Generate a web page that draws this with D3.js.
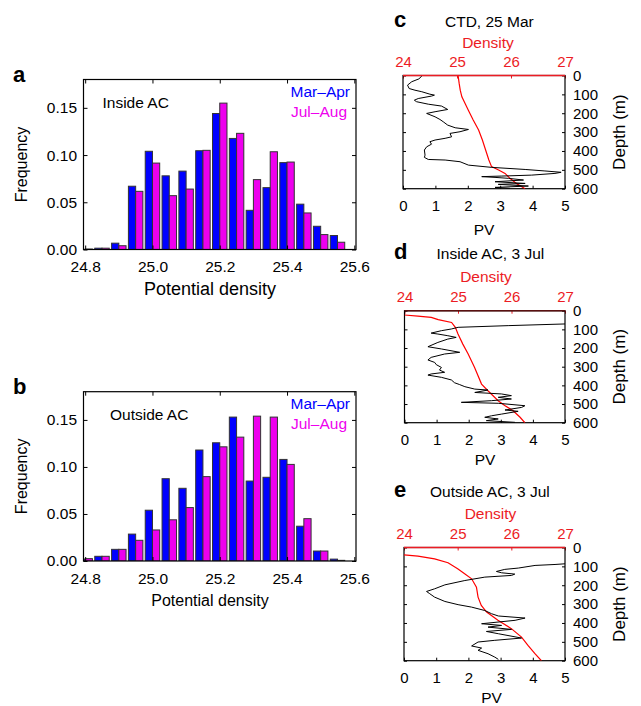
<!DOCTYPE html>
<html>
<head>
<meta charset="utf-8">
<script src="https://cdn.jsdelivr.net/npm/d3@7"></script>
<style>
  html, body { margin: 0; padding: 0; background: #fff; }
  svg { display: block; font-family: "Liberation Sans", Arial, Helvetica, sans-serif; }
</style>
</head>
<body>
<svg id="chart" width="641" height="706"></svg>
<script>
// ---------------- DATA ----------------
const densityBins = [24.80, 24.85, 24.90, 24.95, 25.00, 25.05, 25.10, 25.15, 25.20, 25.25, 25.30, 25.35, 25.40, 25.45, 25.50, 25.55];
const insideMarApr  = [0.000, 0.0014, 0.0067, 0.067, 0.104, 0.078, 0.083, 0.1046, 0.144, 0.1176, 0.0415, 0.0655, 0.092, 0.048, 0.0246, 0.0148];
const insideJulAug  = [0.0005, 0.0014, 0.004, 0.0616, 0.0915, 0.057, 0.064, 0.105, 0.155, 0.123, 0.074, 0.1035, 0.0926, 0.0387, 0.0158, 0.0077];
const outsideMarApr = [0.002, 0.005, 0.0124, 0.0286, 0.054, 0.0875, 0.0773, 0.118, 0.1257, 0.153, 0.085, 0.089, 0.108, 0.037, 0.0106, 0.002];
const outsideJulAug = [0.0025, 0.005, 0.0124, 0.022, 0.033, 0.0438, 0.0568, 0.0897, 0.1214, 0.1317, 0.154, 0.153, 0.1027, 0.045, 0.0106, 0.0007];
const histXTicks = [24.8, 25.0, 25.2, 25.4, 25.6];
const histYTicks = [0.00, 0.05, 0.10, 0.15];
const seasonLabels = ["Mar–Apr", "Jul–Aug"];

const pvTicks = [0, 1, 2, 3, 4, 5];
const rhoTicks = [24, 25, 26, 27];
const depthTicks = [0, 100, 200, 300, 400, 500, 600];

// profiles: [value, depth]
const ctdPV = [[0.58,3],[0.49,18],[0.27,33],[0.14,51],[0.19,69],[0.37,78],[0.58,86],[0.83,99],[0.97,104],[0.88,109],[0.47,122],[0.35,131],[0.42,139],[0.78,152],[1.19,162],[1.38,180],[0.99,192],[0.73,201],[0.99,219],[1.14,233],[1.24,245],[1.38,263],[1.61,277],[2.02,286],[1.76,298],[1.45,307],[1.5,325],[1.3,333],[0.99,342],[0.83,351],[0.88,364],[0.73,378],[0.66,395],[0.68,422],[0.66,434],[0.78,445],[1.3,448],[1.76,457],[2.02,475],[2.74,487],[3.77,498],[4.38,506],[4.88,513],[4.69,519],[3.97,528],[3.05,533],[2.43,536],[2.84,540],[3.25,545],[3.72,554],[2.84,563],[3.77,572],[2.94,577],[3.87,586],[2.84,593],[3.3,598]];
const ctdRho = [[25.02,0],[25.04,42],[25.06,78],[25.09,113],[25.15,148],[25.21,184],[25.30,236],[25.40,289],[25.47,342],[25.53,395],[25.59,448],[25.64,483],[25.77,501],[25.89,519],[25.98,545],[26.10,572],[26.26,600]];

const insidePV = [[5.2,70],[3.23,80],[1.67,89],[1.46,98],[1.15,107],[0.83,120],[1.04,125],[1.35,134],[1.61,143],[1.35,152],[1.04,170],[0.73,193],[1.15,205],[1.72,223],[1.25,232],[0.83,250],[0.73,264],[0.94,277],[0.99,289],[1.15,304],[1.09,318],[1.25,330],[0.83,339],[0.73,345],[1.15,357],[1.46,371],[1.56,386],[1.72,396],[1.88,407],[2.19,420],[2.6,425],[2.19,438],[3.02,446],[3.33,455],[2.92,464],[3.33,473],[2.71,482],[1.77,491],[2.92,496],[3.75,509],[3.65,518],[3.13,532],[3.54,539],[3.02,554],[2.71,563],[2.5,571],[2.92,580],[2.55,589],[3.44,598]];
const insideRho = [[24.0,23],[24.25,29],[24.5,36],[24.63,48],[24.88,63],[24.95,89],[25.0,125],[25.09,179],[25.19,232],[25.31,304],[25.44,393],[25.56,429],[25.75,482],[25.88,509],[26.03,536],[26.16,571],[26.25,600]];

const outsidePV = [[5.2,84],[4.69,90],[4.07,95],[3.55,109],[3.13,116],[2.87,127],[3.03,134],[3.44,141],[3.34,148],[2.51,157],[1.89,175],[1.27,198],[0.95,219],[0.7,233],[0.8,245],[0.95,263],[1.27,286],[1.68,303],[2.1,316],[2.51,334],[2.72,351],[2.93,363],[3.76,374],[3.45,386],[2.41,404],[3.03,413],[2.61,422],[3.34,434],[2.56,445],[2.93,457],[3.65,480],[2.82,492],[2.3,501],[2.1,522],[2.41,533],[2.3,545],[2.61,563],[2.82,581],[2.93,593]];
const outsideRho = [[24.0,39],[24.26,46],[24.57,60],[24.82,81],[25.0,113],[25.13,139],[25.26,166],[25.35,210],[25.38,263],[25.44,307],[25.54,342],[25.75,386],[26.0,430],[26.19,475],[26.31,519],[26.44,563],[26.56,600]];

// ---------------- DRAW ----------------
const svg = d3.select("#chart");
const BLUE = "#0000ff", MAG = "#ee00ee", RED = "#ec1c24";
let clipId = 0;

function histPanel(o) {
  const g = svg.append("g");
  const x = d3.scaleLinear().domain([24.795, 25.605]).range([o.x0, o.x1]);
  const y = d3.scaleLinear().domain([0, 0.18]).range([o.y1, o.y0]);
  const id = "clip" + (clipId++);
  g.append("clipPath").attr("id", id).append("rect")
    .attr("x", o.x0).attr("y", o.y0).attr("width", o.x1 - o.x0).attr("height", o.y1 - o.y0);
  const bw = 0.0215;
  const barW = x(24.8 + bw) - x(24.8);
  const bars = g.append("g").attr("clip-path", `url(#${id})`);
  const series = [{v: o.s1, c: BLUE, off: -bw}, {v: o.s2, c: MAG, off: 0}];
  series.forEach(s => {
    bars.selectAll(null).data(densityBins.map((b, i) => ({b, v: s.v[i]}))).enter()
      .append("rect")
      .attr("x", d => x(d.b + s.off))
      .attr("width", barW)
      .attr("y", d => y(d.v))
      .attr("height", d => y(0) - y(d.v))
      .attr("fill", s.c)
      .attr("stroke", "#333")
      .attr("stroke-width", 1);
  });
  // axes
  const ax = (a, t) => a.tickValues(t).tickSizeOuter(0);
  g.append("g").attr("transform", `translate(${o.x0},0)`)
    .call(ax(d3.axisLeft(y), histYTicks).tickSize(-4).tickPadding(6.5).tickFormat(d3.format(".2f")));
  g.append("g").attr("transform", `translate(0,${o.y1})`)
    .call(ax(d3.axisBottom(x), histXTicks).tickSize(-4).tickPadding(11.5).tickFormat(d3.format(".1f")));
  g.append("g").attr("transform", `translate(0,${o.y0})`)
    .call(ax(d3.axisTop(x), histXTicks).tickSize(-4).tickFormat(""));
  g.append("g").attr("transform", `translate(${o.x1},0)`)
    .call(ax(d3.axisRight(y), histYTicks).tickSize(-4).tickFormat(""));
  g.selectAll(".domain").remove();
  g.selectAll(".tick line").attr("stroke", "#000");
  g.selectAll(".tick text").attr("font-size", 15.5).attr("font-family", "Liberation Sans, Arial, sans-serif").attr("fill", "#000");
  g.append("rect").attr("x", o.x0).attr("y", o.y0).attr("width", o.x1 - o.x0).attr("height", o.y1 - o.y0)
    .attr("fill", "none").attr("stroke", "#000").attr("stroke-width", 1.2);
  // text
  g.append("text").attr("x", 13).attr("y", o.y0 + 2).attr("font-size", 22).attr("font-weight", "bold").text(o.letter);
  g.append("text").attr("x", o.lx).attr("y", o.y0 + 28.5).attr("font-size", 15.5).text(o.label);
  g.append("text").attr("x", 350).attr("y", o.y0 + 17.5).attr("font-size", 15.5).attr("text-anchor", "end").attr("fill", BLUE).text(seasonLabels[0]);
  g.append("text").attr("x", 347).attr("y", o.y0 + 37.5).attr("font-size", 15.5).attr("text-anchor", "end").attr("fill", MAG).text(seasonLabels[1]);
  g.append("text").attr("transform", `translate(27,${(o.y0 + o.y1) / 2}) rotate(-90)`)
    .attr("text-anchor", "middle").attr("font-size", 16).text("Frequency");
  g.append("text").attr("x", 210).attr("y", o.xlabY).attr("text-anchor", "middle").attr("font-size", o.xlabSize).text("Potential density");
}

histPanel({x0: 83.5, x1: 356, y0: 79.5, y1: 249.5, s1: insideMarApr, s2: insideJulAug, letter: "a", label: "Inside AC", lx: 102.5, xlabY: 295, xlabSize: 18});
histPanel({x0: 83.5, x1: 356, y0: 391.7, y1: 561, s1: outsideMarApr, s2: outsideJulAug, letter: "b", label: "Outside AC", lx: 110, xlabY: 605.5, xlabSize: 16});

function profilePanel(o) {
  const g = svg.append("g");
  const x = d3.scaleLinear().domain([0, 5]).range([o.x0, o.x1]);
  const xr = d3.scaleLinear().domain([24, 27]).range([o.x0, o.x1]);
  const y = d3.scaleLinear().domain([0, 600]).range([o.y0, o.y1]);
  const id = "clip" + (clipId++);
  g.append("clipPath").attr("id", id).append("rect")
    .attr("x", o.x0).attr("y", o.y0).attr("width", o.x1 - o.x0).attr("height", o.y1 - o.y0);
  const ax = (a, t) => a.tickValues(t).tickSizeOuter(0).tickFormat(d3.format("d"));
  g.append("g").attr("class", "bx").attr("transform", `translate(0,${o.y1})`)
    .call(ax(d3.axisBottom(x), pvTicks).tickSize(-3).tickPadding(12));
  g.append("g").attr("class", "tx").attr("transform", `translate(0,${o.y0})`)
    .call(ax(d3.axisTop(xr), rhoTicks).tickSize(-3).tickPadding(8.5));
  g.append("g").attr("class", "rx").attr("transform", `translate(${o.x1},0)`)
    .call(ax(d3.axisRight(y), depthTicks).tickSize(-3).tickPadding(8));
  g.append("g").attr("transform", `translate(${o.x0},0)`)
    .call(ax(d3.axisLeft(y), depthTicks).tickSize(-3).tickFormat(""));
  g.selectAll(".domain").remove();
  g.selectAll(".tick line").attr("stroke", "#000");
  g.selectAll(".tick text").attr("font-size", 15).attr("font-family", "Liberation Sans, Arial, sans-serif").attr("fill", "#000");
  g.selectAll(".rx .tick text").attr("text-anchor", "start");
  g.selectAll(".tx .tick text").attr("fill", RED);
  g.selectAll(".tx .tick line").attr("stroke", RED);
  // frame
  g.append("rect").attr("x", o.x0).attr("y", o.y0).attr("width", o.x1 - o.x0).attr("height", o.y1 - o.y0)
    .attr("fill", "none").attr("stroke", "#000").attr("stroke-width", 1.2);
  g.append("line").attr("x1", o.x0).attr("x2", o.x1).attr("y1", o.y0).attr("y2", o.y0)
    .attr("stroke", o.topColor).attr("stroke-width", 1.5);
  const lines = g.append("g").attr("clip-path", `url(#${id})`);
  lines.append("path").datum(o.rho)
    .attr("d", d3.line().x(d => xr(d[0])).y(d => y(d[1])))
    .attr("fill", "none").attr("stroke", "#ff0000").attr("stroke-width", 1.2);
  lines.append("path").datum(o.pv)
    .attr("d", d3.line().x(d => x(d[0])).y(d => y(d[1])))
    .attr("fill", "none").attr("stroke", "#000").attr("stroke-width", 1);
  // text
  g.append("text").attr("x", 394).attr("y", o.titleY).attr("font-size", 22).attr("font-weight", "bold").text(o.letter);
  g.append("text").attr("x", o.titleX).attr("y", o.titleY).attr("font-size", 15.5).text(o.title);
  g.append("text").attr("x", o.densX).attr("y", o.densY).attr("text-anchor", "middle").attr("font-size", 15.5).attr("fill", RED).text("Density");
  g.append("text").attr("x", o.pvX).attr("y", o.pvY).attr("text-anchor", "middle").attr("font-size", 15.5).text("PV");
  g.append("text").attr("transform", `translate(625,${(o.y0 + o.y1) / 2}) rotate(-90)`)
    .attr("text-anchor", "middle").attr("font-size", 17).text("Depth (m)");
}

profilePanel({x0: 403, x1: 565, y0: 75.5, y1: 188.7, pv: ctdPV, rho: ctdRho, letter: "c", title: "CTD, 25 Mar",
  titleX: 445, titleY: 26.7, densX: 488, densY: 47.5, pvX: 484, pvY: 235, topColor: RED});
profilePanel({x0: 404.5, x1: 565, y0: 310.7, y1: 422.7, pv: insidePV, rho: insideRho, letter: "d", title: "Inside AC, 3 Jul",
  titleX: 436.5, titleY: 259.3, densX: 486, densY: 281.7, pvX: 485, pvY: 465, topColor: "#5a1010"});
profilePanel({x0: 404, x1: 565, y0: 547.5, y1: 660.7, pv: outsidePV, rho: outsideRho, letter: "e", title: "Outside AC, 3 Jul",
  titleX: 430, titleY: 496.7, densX: 490.5, densY: 519, pvX: 491.5, pvY: 703, topColor: RED});
</script>
</body>
</html>
